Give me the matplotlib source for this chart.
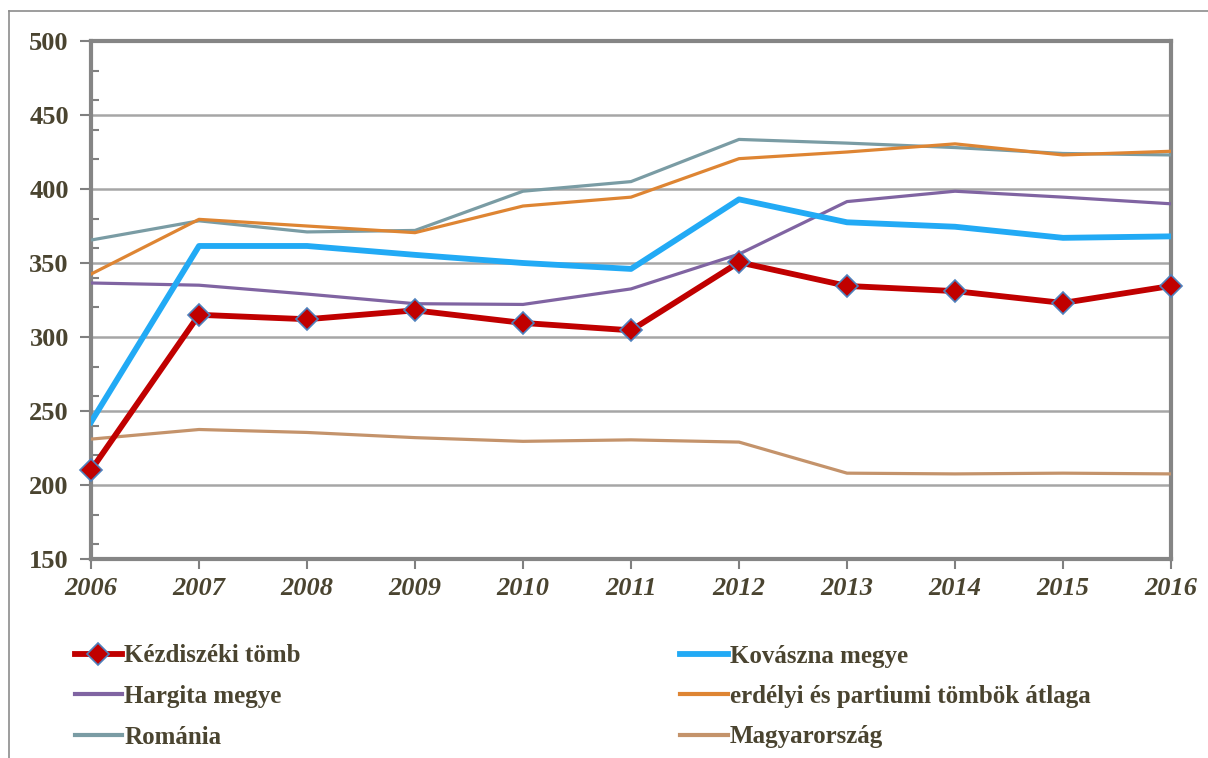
import numpy as np
import matplotlib.pyplot as plt
from matplotlib.lines import Line2D
from matplotlib.ticker import MultipleLocator

years = [2006, 2007, 2008, 2009, 2010, 2011, 2012, 2013, 2014, 2015, 2016]

kezdiszek = [210, 315, 312, 318, 309.5, 304.5, 350.5, 334.5, 331, 323, 334.5]
kovaszna = [242.5, 361.5, 361.5, 355.5, 350, 346, 393, 377.5, 374.5, 367, 368]
hargita = [336.5, 335, 329, 322.5, 322, 332.5, 356, 391.5, 398.5, 394.5, 390]
erdelyi = [342.5, 379.5, 375, 370.5, 388.5, 394.5, 420.5, 425, 430.5, 423, 425.5]
romania = [365.5, 378.5, 371, 372, 398.5, 405, 433.5, 431, 428, 424, 423]
magyar = [231, 237.5, 235.5, 232, 229.5, 230.5, 229, 208, 207.5, 208, 207.5]

labels = ['Kézdiszéki tömb', 'Kovászna megye', 'Hargita megye',
          'erdélyi és partiumi tömbök átlaga', 'Románia', 'Magyarország']

text_color = '#4A4430'
font = ['Liberation Serif', 'DejaVu Serif']

fig = plt.figure(figsize=(12.08, 7.58), dpi=100)
W, H = 1208, 758

# outer chart border
fig.add_artist(Line2D([9 / W, 9 / W], [0, 1 - 11 / H], transform=fig.transFigure,
                      color='#8C8C8C', lw=1.2))
fig.add_artist(Line2D([9 / W, 1], [1 - 11 / H, 1 - 11 / H], transform=fig.transFigure,
                      color='#8C8C8C', lw=1.2))

ax = fig.add_axes([91 / W, 1 - 559 / H, (1171 - 91) / W, (559 - 41) / H])

ax.plot(years, romania, color='#7A9CA4', lw=2.3, zorder=3)
ax.plot(years, erdelyi, color='#DE8533', lw=2.3, zorder=3)
ax.plot(years, magyar, color='#C4936B', lw=2.3, zorder=3)
ax.plot(years, hargita, color='#8064A2', lw=2.3, zorder=3)
ax.plot(years, kovaszna, color='#22AAF5', lw=4.2, zorder=4)
ax.plot(years, kezdiszek, color='#C00000', lw=4.2, marker='D', markersize=11,
        markerfacecolor='#C00000', markeredgecolor='#4F81BD', markeredgewidth=1.2,
        zorder=5, clip_on=False)

ax.set_xlim(2006, 2016)
ax.set_ylim(150, 500)
ax.yaxis.set_major_locator(MultipleLocator(50))
ax.yaxis.set_minor_locator(MultipleLocator(20))
ax.set_xticks(years)
ax.grid(axis='y', which='major', color='#A6A6A6', lw=1.8, zorder=1)

for s in ax.spines.values():
    s.set_color('#858585')
    s.set_linewidth(3)

ax.tick_params(axis='y', which='major', direction='out', length=8, width=1.5,
               color='#808080', pad=8)
ax.tick_params(axis='y', which='minor', direction='in', length=6, width=1.5,
               color='#808080')
ax.tick_params(axis='x', which='major', direction='out', length=7, width=1.5,
               color='#808080', pad=6)

for t in ax.get_yticklabels():
    t.set_fontfamily(font)
    t.set_fontweight('bold')
    t.set_fontsize(19)
    t.set_color(text_color)
for t in ax.get_xticklabels():
    t.set_fontfamily(font)
    t.set_fontweight('bold')
    t.set_fontstyle('italic')
    t.set_fontsize(19)
    t.set_color(text_color)

handles = [
    Line2D([], [], color='#C00000', lw=4.2, marker='D', markersize=11,
           markerfacecolor='#C00000', markeredgecolor='#4F81BD', markeredgewidth=1.2),
    Line2D([], [], color='#22AAF5', lw=4.2),
    Line2D([], [], color='#8064A2', lw=3),
    Line2D([], [], color='#DE8533', lw=3),
    Line2D([], [], color='#7A9CA4', lw=3),
    Line2D([], [], color='#C4936B', lw=3),
]

# matplotlib fills legend columns first, the reference fills rows first
order = [0, 2, 4, 1, 3, 5]
leg = fig.legend([handles[i] for i in order], [labels[i] for i in order],
                 ncol=2, loc='upper left',
                 bbox_to_anchor=(52 / W, 1 - 622 / H), frameon=False,
                 prop={'family': font, 'weight': 'bold', 'size': 18},
                 handlelength=1.9, handletextpad=0.1, labelspacing=0.7,
                 columnspacing=15.16)
for t in leg.get_texts():
    t.set_color(text_color)

fig.savefig('out.png', dpi=100)
